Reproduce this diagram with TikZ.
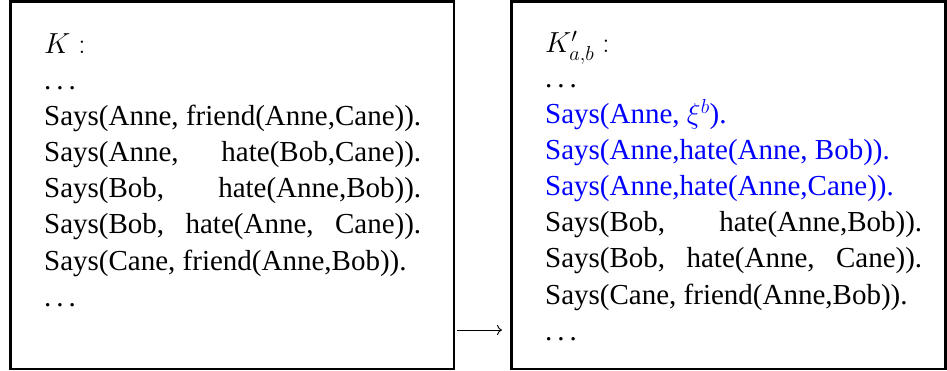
\RequirePackage{fix-cm}
\documentclass[tikz,border=0pt]{standalone}
\usepackage{amsmath}
\usepackage{fontspec}
\setmainfont{Liberation Serif}
\usetikzlibrary{arrows.meta}
\newcommand{\mydots}{.\kern5pt.\kern5pt.}
\newcommand{\jline}[1]{\makebox[377pt][s]{#1}}
\begin{document}
\begin{tikzpicture}[x=1pt,y=-1pt,
  box/.style={draw, line width=2.5pt, inner sep=0pt, outer sep=0pt, anchor=north west},
  txt/.style={anchor=base west, inner sep=0pt, font=\fontsize{29}{36}\selectfont},
  bl/.style={txt, text=blue}]
\useasboundingbox (0,0) rectangle (947,371);
\node[box, minimum width=443.5pt, minimum height=367.5pt] (leftbox) at (10.5,1.5) {};
\node[box, minimum width=434pt, minimum height=367.5pt] (rightbox) at (511.5,1.5) {};
% left box text
\node[txt] (l0) at (44,54) {$K:$};
\node[txt] (l1) at (44,90) {\mydots};
\node[txt] (l2) at (44,126) {\jline{Says(Anne, friend(Anne,Cane)).}};
\node[txt] (l3) at (44,162) {\jline{Says(Anne, hate(Bob,Cane)).}};
\node[txt] (l4) at (44,198) {\jline{Says(Bob, hate(Anne,Bob)).}};
\node[txt] (l5) at (44,234) {\jline{Says(Bob, hate(Anne, Cane)).}};
\node[txt] (l6) at (44,270) {Says(Cane, friend(Anne,Bob)).};
\node[txt] (l7) at (44,306) {\mydots};
% right box text
\node[txt] (r0) at (545,53) {$K'_{a,b}:$};
\node[txt] (r1) at (545,88) {\mydots};
\node[bl] (r2) at (545,124) {Says(Anne, $\xi^{b}$).};
\node[bl] (r3) at (545,160) {Says(Anne,hate(Anne, Bob)).};
\node[bl] (r4) at (545,196) {Says(Anne,hate(Anne,Cane)).};
\node[txt] (r5) at (545,232) {\jline{Says(Bob, hate(Anne,Bob)).}};
\node[txt] (r6) at (545,268) {\jline{Says(Bob, hate(Anne, Cane)).}};
\node[txt] (r7) at (545,304) {Says(Cane, friend(Anne,Bob)).};
\node[txt] (r8) at (545,340) {\mydots};
% arrow
\coordinate (a1) at (457,330);
\coordinate (a2) at (502,330);
\draw[line width=0.9pt, -{To[length=5pt,width=10pt]}] (a1) -- (a2);
\end{tikzpicture}
\end{document}
